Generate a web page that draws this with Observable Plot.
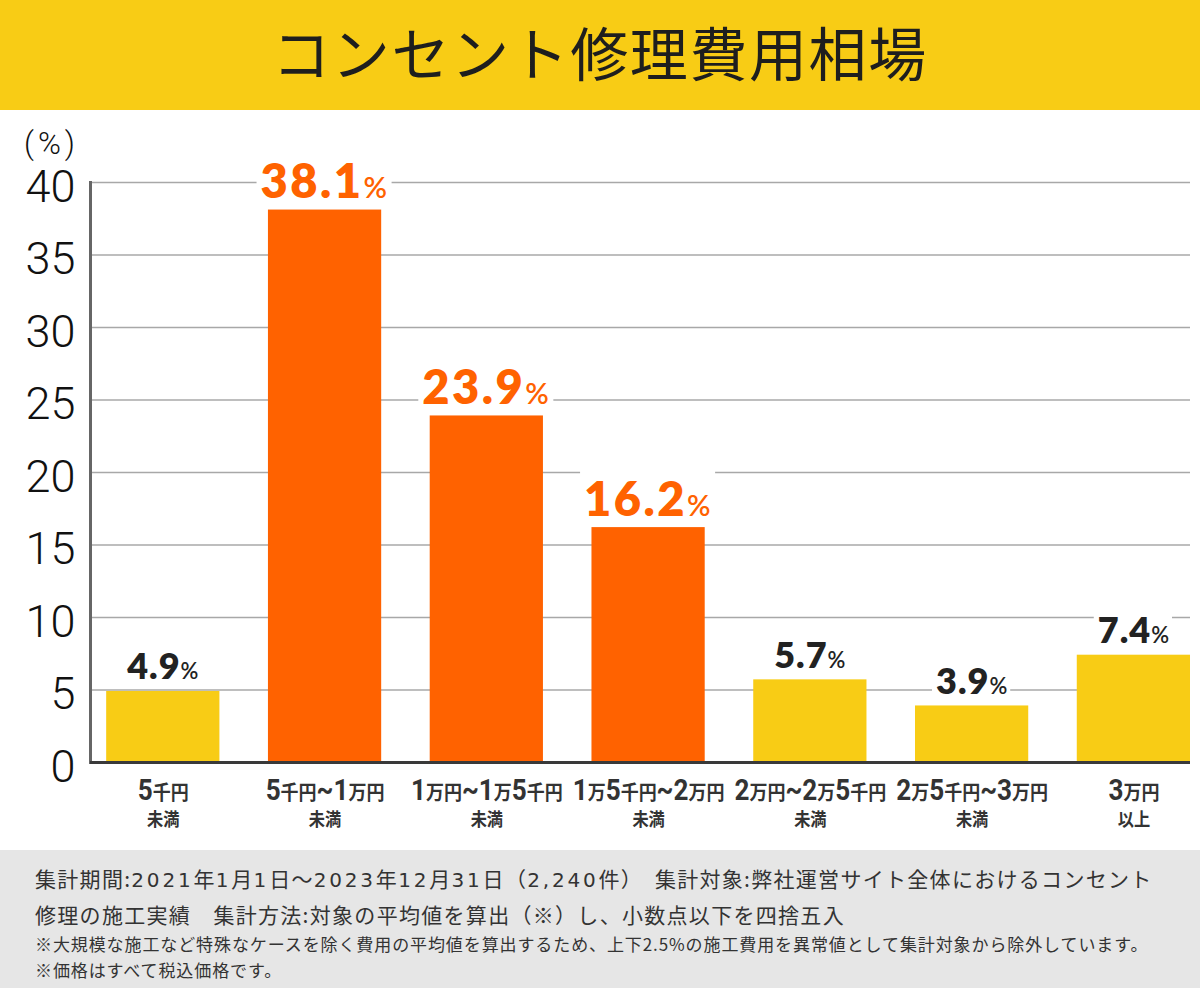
<!DOCTYPE html>
<html>
<head>
<meta charset="utf-8">
<script src="https://cdn.jsdelivr.net/npm/d3@7"></script>
<script src="https://cdn.jsdelivr.net/npm/@observablehq/plot@0.6"></script>
<style>
  html, body { margin: 0; padding: 0; background: #fff; }
  #wrap { width: 1200px; height: 988px; position: relative; overflow: hidden; font-family: "Noto Sans CJK JP", sans-serif; }
  #title { height: 110px; background: #F8CC15; color: #1e1e1e; font-size: 58px; font-weight: 400; text-align: center; line-height: 103px; letter-spacing: 1.6px; white-space: nowrap; }
  #chart { height: 740px; }
  #chart svg { display: block; }
  #footer { height: 138px; background: #E6E6E6; padding: 11px 0 0 35px; box-sizing: border-box; color: #333; white-space: nowrap; }
  #footer .big { font-size: 21px; line-height: 34px; letter-spacing: 1.3px; }
  #footer .small { font-size: 17px; line-height: 26px; letter-spacing: 0.9px; }
  #footer .num { font-family: "DejaVu Sans", sans-serif; font-size: 20px; letter-spacing: 2.8px; }
</style>
</head>
<body>
<div id="wrap">
  <div id="title">コンセント修理費用相場</div>
  <div id="chart"></div>
  <div id="footer">
    <div class="big">集計期間:<span class="num">2021</span>年<span class="num">1</span>月<span class="num">1</span>日～<span class="num">2023</span>年<span class="num">12</span>月<span class="num">31</span>日（<span class="num">2,240</span>件）　集計対象:弊社運営サイト全体におけるコンセント</div>
    <div class="big">修理の施工実績　集計方法:対象の平均値を算出（※）し、小数点以下を四捨五入</div>
    <div class="small">※大規模な施工など特殊なケースを除く費用の平均値を算出するため、上下2.5%の施工費用を異常値として集計対象から除外しています。</div>
    <div class="small">※価格はすべて税込価格です。</div>
  </div>
</div>
<script>
const catLine1 = ["5千円", "5千円~1万円", "1万円~1万5千円", "1万5千円~2万円", "2万円~2万5千円", "2万5千円~3万円", "3万円"];
const catLine2 = ["未満", "未満", "未満", "未満", "未満", "未満", "以上"];
const values = [4.9, 38.1, 23.9, 16.2, 5.7, 3.9, 7.4];
const highlighted = [false, true, true, true, false, false, false];
const yTicks = [0, 5, 10, 15, 20, 25, 30, 35, 40];
const unitLabel = "(%)";

const ORANGE = "#FF6200";
const YELLOW = "#F8CC15";
const DARK = "#222222";

const cats = catLine1.map((c, i) => c + "\n" + catLine2[i]);
const data = values.map((v, i) => ({cat: cats[i], value: v, hi: highlighted[i]}));

const chart = Plot.plot({
  width: 1200,
  height: 740,
  marginLeft: 90,
  marginRight: 10,
  marginTop: 72,
  marginBottom: 88,
  style: {fontFamily: '"Noto Sans CJK JP", sans-serif', background: "transparent", overflow: "visible"},
  x: {domain: cats, paddingInner: 0.3, paddingOuter: 0.05, align: 1, round: false},
  y: {domain: [0, 40]},
  color: {type: "identity"},
  marks: [
    Plot.gridY(yTicks, {stroke: "#a8a8a8", strokeOpacity: 1, strokeWidth: 1.3}),
    Plot.barY(data, {x: "cat", y: "value", fill: d => d.hi ? ORANGE : YELLOW}),
    Plot.frame({anchor: "left", stroke: "#666", strokeWidth: 3}),
    Plot.ruleY([0], {stroke: "#3a3a3a", strokeWidth: 3}),
    Plot.axisY(yTicks, {tickSize: 0, tickPadding: 15, fontSize: 45, fontFamily: "Roboto", fontWeight: 300, color: "#111", dy: 5, label: null}),
    Plot.axisX({tickSize: 0, tickPadding: 18, fontSize: 28, lineHeight: 0.96, fontWeight: "bold", color: "#333", label: null}),
    Plot.text(data, {
      x: "cat", y: "value", text: d => d.value.toFixed(1),
      dy: -12, lineAnchor: "bottom",
      fill: d => d.hi ? ORANGE : DARK,
      fontSize: d => d.hi ? 47 : 36,
      fontFamily: "Lato", fontWeight: 800
    }),
    Plot.text([unitLabel], {frameAnchor: "top-left", textAnchor: "middle", lineAnchor: "bottom", dx: -39, dy: -29, fontSize: 31, fontFamily: "Roboto", fontWeight: 300, fill: "#111"})
  ]
});

document.getElementById("chart").appendChild(chart);

const svgns = "http://www.w3.org/2000/svg";

// "(%)" spacing
chart.querySelectorAll('g[aria-label="text"] text').forEach(t => {
  if (t.textContent === unitLabel) t.style.letterSpacing = "4px";
});

// x tick labels: mixed sizes for digits vs kanji, slightly condensed
chart.querySelectorAll('g[aria-label="x-axis tick label"] text').forEach(t => {
  const spans = t.querySelectorAll(":scope > tspan");
  if (spans.length < 1) return;
  const l1 = spans[0];
  const s = l1.textContent;
  l1.textContent = "";
  (s.match(/[0-9~]+|[^0-9~]+/g) || []).forEach(run => {
    const ts = document.createElementNS(svgns, "tspan");
    ts.textContent = run;
    if (/[0-9~]/.test(run[0])) {
      ts.setAttribute("font-size", 29);
      ts.setAttribute("font-family", 'Roboto, sans-serif');
    } else {
      ts.setAttribute("font-size", 20);
    }
    l1.appendChild(ts);
  });
  if (spans.length >= 2) {
    const l2 = spans[1];
    const s2 = l2.textContent;
    l2.textContent = "";
    const ts = document.createElementNS(svgns, "tspan");
    ts.textContent = s2;
    ts.setAttribute("font-size", 18);
    l2.appendChild(ts);
  }
  const tr = t.getAttribute("transform");
  if (tr) t.setAttribute("transform", tr + " scale(0.9,1)");
});

// bar value labels: add small "%" and white background box
let k = 0;
chart.querySelectorAll('g[aria-label="text"] text').forEach(t => {
  if (!/^\d+\.\d$/.test(t.textContent)) return;
  const hi = highlighted[k++];
  t.style.letterSpacing = hi ? "2.5px" : "1px";
  const p = document.createElementNS(svgns, "tspan");
  p.textContent = "%";
  p.setAttribute("font-size", hi ? 29 : 22);
  p.setAttribute("font-weight", 600);
  t.appendChild(p);
  const bb = t.getBBox();
  const r = document.createElementNS(svgns, "rect");
  r.setAttribute("x", bb.x - 4);
  r.setAttribute("y", bb.y - 2);
  r.setAttribute("width", bb.width + 6);
  r.setAttribute("height", bb.height - 5);
  r.setAttribute("fill", "#fff");
  r.setAttribute("stroke", "none");
  const tr = t.getAttribute("transform");
  if (tr) r.setAttribute("transform", tr);
  t.parentNode.insertBefore(r, t);
});
</script>
</body>
</html>
